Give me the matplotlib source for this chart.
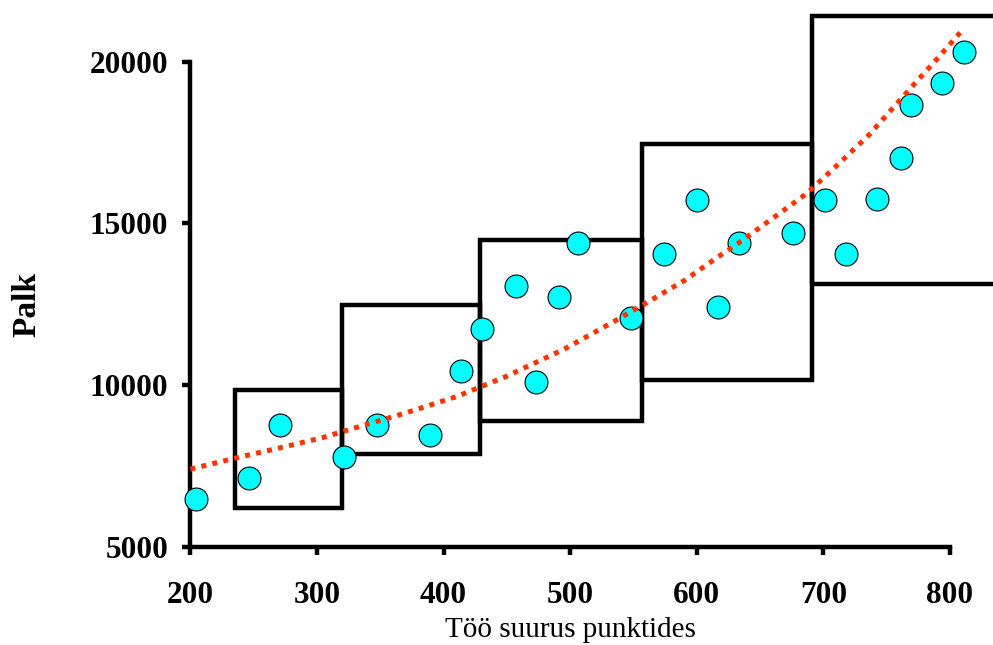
import matplotlib
matplotlib.use("Agg")
import matplotlib.pyplot as plt
from matplotlib.patches import Rectangle

# scatter data (work size in points, salary)
points_x = [204, 246, 271, 321, 347, 389, 414, 430, 457, 473, 491, 506, 548, 574,
            600, 617, 633, 676, 701, 718, 742, 761, 769, 794, 811]
salary = [6475, 7125, 8760, 7775, 8760, 8455, 10435, 11735, 13065, 10095, 12725, 14395,
          12075, 14055, 15725, 12415, 14395, 14710, 15725, 14055, 15765, 17030, 18660,
          19345, 20310]

# trend curve
trend_x = [200, 238, 271, 304, 336, 369, 410, 449, 495, 532, 561, 590, 617, 632,
           666, 687, 711, 736, 753, 770, 792, 808]
trend_y = [7400, 7765, 8060, 8370, 8745, 9125, 9640, 10260, 11105, 11910, 12560, 13230,
           13970, 14365, 15330, 15930, 16805, 17735, 18485, 19230, 20185, 20900]

# salary bands (x from, x to, y low, y high)
band_x0 = [235, 320, 429, 556.5, 691]
band_x1 = [320, 429, 556.5, 691, 860]
band_lo = [6190, 7865, 8875, 10155, 13125]
band_hi = [9845, 12475, 14485, 17455, 21400]

plt.rcParams["font.family"] = ["Liberation Serif", "DejaVu Serif"]

fig = plt.figure(figsize=(9.93, 6.45), dpi=100)
ax = fig.add_axes([0.1918, 0.1524, 0.7649, 0.7519])

for x0, x1, lo, hi in zip(band_x0, band_x1, band_lo, band_hi):
    ax.add_patch(Rectangle((x0, lo), x1 - x0, hi - lo, fill=False, edgecolor="black",
                           linewidth=3.2, clip_on=False, zorder=2))

ax.plot(trend_x, trend_y, color="#ff3300", linewidth=3.6, linestyle=(0, (1, 1.25)),
        clip_on=False, zorder=4)
ax.plot(points_x, salary, linestyle="none", marker="o", markersize=16.5,
        markerfacecolor="#00ffff", markeredgecolor="black", markeredgewidth=0.8,
        clip_on=False, zorder=3)

ax.set_xlim(200, 800)
ax.set_ylim(5000, 20000)
ax.set_xticks(range(200, 801, 100))
ax.set_yticks(range(5000, 20001, 5000))
for s in ["top", "right"]:
    ax.spines[s].set_visible(False)
for s in ["left", "bottom"]:
    ax.spines[s].set_linewidth(3.2)
ax.tick_params(width=3.2, length=6, direction="out", labelsize=22.5)
ax.tick_params(axis="x", pad=19)
ax.tick_params(axis="y", pad=10)
for lab in ax.get_xticklabels() + ax.get_yticklabels():
    lab.set_fontweight("bold")

ax.set_xlabel("Töö suurus punktides", fontsize=21, labelpad=5)
ax.set_ylabel("Palk", fontsize=24, fontweight="bold", labelpad=34)

fig.savefig("out.png", dpi=100)
